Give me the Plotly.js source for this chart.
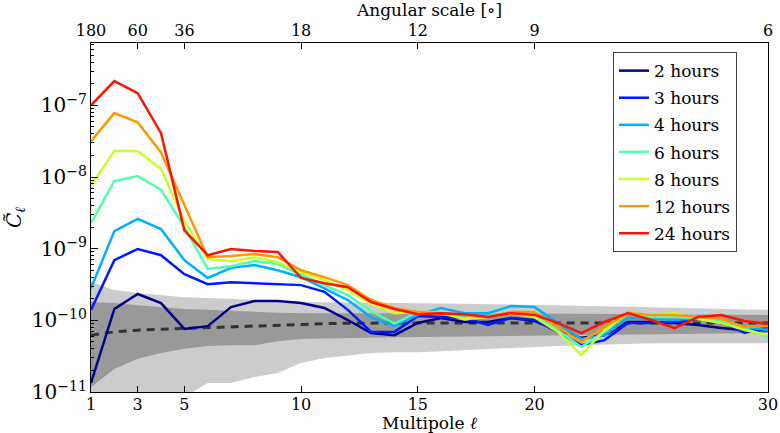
<!DOCTYPE html>
<html>
<head>
<meta charset="utf-8">
<script src="https://cdn.plot.ly/plotly-3.0.1.min.js"></script>
<style>html,body{margin:0;padding:0;background:#fff;}#chart{width:780px;height:433px;}</style>
</head>
<body>
<div id="chart"></div>
<script>
// Multipole ell
const ell = [1,2,3,4,5,6,7,8,9,10,11,12,13,14,15,16,17,18,19,20,21,22,23,24,25,26,27,28,29,30];

// Series values (C_ell)
const h2  = [1.34e-11,1.44e-10,2.33e-10,1.74e-10,7.6e-11,8.3e-11,1.53e-10,1.86e-10,1.86e-10,1.74e-10,1.49e-10,1.01e-10,6.65e-11,6.2e-11,9.2e-11,1.08e-10,9.5e-11,9.5e-11,1.08e-10,9.8e-11,7.3e-11,5.7e-11,6.2e-11,9.5e-11,9.5e-11,9.2e-11,8.6e-11,7.8e-11,7.3e-11,7.3e-11];
const h3  = [1.4e-10,6.9e-10,9.9e-10,8.1e-10,4.4e-10,3.2e-10,3.4e-10,3.3e-10,3.2e-10,3.1e-10,2.5e-10,1.4e-10,6.9e-11,6.9e-11,1.15e-10,1.11e-10,1.08e-10,8.6e-11,1.08e-10,1.01e-10,6.9e-11,4.5e-11,5.3e-11,9.2e-11,9.2e-11,9.5e-11,1.04e-10,9.5e-11,6.65e-11,8.1e-11];
const h4  = [2.8e-10,1.76e-9,2.6e-9,1.88e-9,6.9e-10,3.9e-10,5.4e-10,5.9e-10,5.0e-10,4.0e-10,2.8e-10,1.92e-10,1.1e-10,8.4e-11,1.19e-10,1.49e-10,1.26e-10,1.26e-10,1.58e-10,1.53e-10,9.2e-11,5.5e-11,6.2e-11,1.08e-10,1.04e-10,1.01e-10,1.08e-10,9.5e-11,8.1e-11,7.3e-11];
const h6  = [2.28e-9,8.8e-9,1.03e-8,6.6e-9,2.0e-9,5.2e-10,5.7e-10,6.7e-10,6.1e-10,4.3e-10,3.1e-10,2.25e-10,1.35e-10,9.0e-11,1.31e-10,1.31e-10,1.08e-10,1.15e-10,1.26e-10,1.15e-10,7.3e-11,4.25e-11,6.9e-11,1.31e-10,1.11e-10,1.11e-10,1.08e-10,9.8e-11,7.8e-11,5.85e-11];
const h8  = [7.7e-9,2.3e-8,2.3e-8,1.29e-8,2.43e-9,7.2e-10,6.7e-10,7.6e-10,6.5e-10,4.7e-10,3.65e-10,2.65e-10,1.7e-10,1.26e-10,1.31e-10,1.26e-10,1.04e-10,1.11e-10,1.26e-10,1.11e-10,6.9e-11,3.3e-11,7.3e-11,1.26e-10,1.19e-10,1.26e-10,1.04e-10,9.2e-11,7.3e-11,6.2e-11];
const h12 = [3.17e-8,7.8e-8,5.8e-8,2.2e-8,4.06e-9,7.6e-10,7.9e-10,8.4e-10,7.6e-10,5.0e-10,4.0e-10,3.1e-10,1.92e-10,1.49e-10,1.31e-10,1.26e-10,1.19e-10,1.11e-10,1.31e-10,1.31e-10,8.1e-11,5.0e-11,8.1e-11,1.26e-10,1.19e-10,1.19e-10,1.11e-10,1.04e-10,8.1e-11,8.3e-11];
const h24 = [1.0e-7,2.18e-7,1.48e-7,4.09e-8,1.8e-9,8.1e-10,9.9e-10,9.3e-10,9.0e-10,3.9e-10,3.3e-10,2.9e-10,1.8e-10,1.44e-10,1.22e-10,1.26e-10,1.22e-10,1.11e-10,1.26e-10,1.19e-10,9.2e-11,6.65e-11,9.5e-11,1.26e-10,1.01e-10,7.8e-11,1.11e-10,1.19e-10,9.8e-11,8.9e-11];

// Noise mean and bands
const meanC   = [6.2e-11,6.9e-11,7.3e-11,7.5e-11,7.8e-11,8.0e-11,8.2e-11,8.4e-11,8.6e-11,8.9e-11,9.0e-11,9.1e-11,9.2e-11,9.2e-11,9.2e-11,9.2e-11,9.2e-11,9.2e-11,9.2e-11,9.2e-11,9.2e-11,9.2e-11,9.2e-11,9.2e-11,9.2e-11,9.2e-11,9.2e-11,9.2e-11,9.2e-11,9.2e-11];
const outerHi = [3.42e-10,2.65e-10,2.4e-10,2.26e-10,2.1e-10,2.05e-10,1.98e-10,1.92e-10,1.86e-10,1.8e-10,1.79e-10,1.78e-10,1.77e-10,1.75e-10,1.74e-10,1.72e-10,1.70e-10,1.68e-10,1.65e-10,1.63e-10,1.61e-10,1.59e-10,1.57e-10,1.55e-10,1.53e-10,1.50e-10,1.48e-10,1.45e-10,1.42e-10,1.4e-10];
const innerHi = [1.8e-10,1.74e-10,1.63e-10,1.53e-10,1.44e-10,1.40e-10,1.35e-10,1.31e-10,1.28e-10,1.26e-10,1.26e-10,1.26e-10,1.26e-10,1.26e-10,1.26e-10,1.26e-10,1.26e-10,1.26e-10,1.26e-10,1.26e-10,1.25e-10,1.24e-10,1.23e-10,1.23e-10,1.22e-10,1.21e-10,1.21e-10,1.20e-10,1.20e-10,1.19e-10];
const innerLo = [1.17e-11,2.1e-11,2.9e-11,3.5e-11,4.0e-11,4.4e-11,4.5e-11,4.5e-11,5.1e-11,5.5e-11,5.6e-11,5.7e-11,5.8e-11,5.8e-11,5.85e-11,5.9e-11,6.0e-11,6.1e-11,6.15e-11,6.2e-11,6.25e-11,6.3e-11,6.35e-11,6.4e-11,6.45e-11,6.5e-11,6.55e-11,6.6e-11,6.6e-11,6.65e-11];
const outerLo = [3e-12,4e-12,5e-12,6e-12,8.5e-12,1.34e-11,1.34e-11,1.62e-11,1.84e-11,2.54e-11,2.98e-11,3.2e-11,3.5e-11,3.6e-11,3.6e-11,3.7e-11,3.85e-11,4.0e-11,4.1e-11,4.25e-11,4.4e-11,4.5e-11,4.5e-11,4.6e-11,4.8e-11,4.8e-11,4.8e-11,4.8e-11,4.8e-11,4.8e-11];

// Labels
const seriesNames = ['2 hours','3 hours','4 hours','6 hours','8 hours','12 hours','24 hours'];
const seriesColors = ['#00008b','#0018ff','#00b0ff','#50ffaa','#c8ff2a','#ff9800','#ff1200'];
const bottomTicks = [1,3,5,10,15,20,30];
const topTickVals = [1,3,5,10,15,20,30];
const topTickText = ['180','60','36','18','12','9','6'];

const series = [h2,h3,h4,h6,h8,h12,h24];
const FONT = 'DejaVu Serif, serif';

const traces = [];
traces.push({x: ell, y: outerLo, mode:'lines', line:{width:0, color:'#cccccc'}, showlegend:false, hoverinfo:'skip'});
traces.push({x: ell, y: outerHi, mode:'lines', line:{width:0, color:'#cccccc'}, fill:'tonexty', fillcolor:'#cccccc', showlegend:false, hoverinfo:'skip'});
traces.push({x: ell, y: innerLo, mode:'lines', line:{width:0, color:'#999999'}, showlegend:false, hoverinfo:'skip'});
traces.push({x: ell, y: innerHi, mode:'lines', line:{width:0, color:'#999999'}, fill:'tonexty', fillcolor:'#999999', showlegend:false, hoverinfo:'skip'});
traces.push({x: ell, y: meanC, mode:'lines', line:{width:3, color:'#333333', dash:'8px,6px'}, showlegend:false, hoverinfo:'skip'});
series.forEach((s,i)=>{
  traces.push({x: ell, y: s, mode:'lines', name: seriesNames[i], legendgroup: 'g'+i,
    line:{width:2.5, color: seriesColors[i]}});
});
// invisible trace to bind the top (angular-scale) axis
traces.push({x: ell, y: meanC, xaxis:'x2', mode:'lines', opacity:0, line:{width:0}, showlegend:false, hoverinfo:'skip'});

const layout = {
  width: 780, height: 433,
  margin: {l: 91, r: 12, t: 43, b: 41},
  paper_bgcolor: '#ffffff', plot_bgcolor: '#ffffff',
  font: {family: FONT, size: 16, color: '#000'},
  showlegend: true,
  xaxis: {
    type: 'linear', range: [1, 30], tickmode: 'array', tickvals: bottomTicks,
    ticks: 'inside', ticklen: 6, tickcolor: '#000', showgrid: false, zeroline: false,
    showline: true, linecolor: '#000', linewidth: 1, mirror: false,
    tickfont: {family: FONT, size: 16}, ticklabelstandoff: -2,
    title: {text: 'Multipole <i>ℓ</i>', font: {family: FONT, size: 17}, standoff: 1}
  },
  xaxis2: {
    overlaying: 'x', side: 'top', range: [1, 30], tickmode: 'array',
    tickvals: topTickVals, ticktext: topTickText,
    ticks: 'inside', ticklen: 6, tickcolor: '#000', showgrid: false, zeroline: false,
    showline: true, linecolor: '#000', linewidth: 1,
    tickfont: {family: FONT, size: 16},
    title: {text: 'Angular scale [∘]', font: {family: FONT, size: 17}, standoff: 0}
  },
  yaxis: {
    type: 'log', range: [-11, -6.13], dtick: 1, exponentformat: 'power',
    ticks: 'inside', ticklen: 7, tickcolor: '#000', showgrid: false, zeroline: false,
    showline: true, linecolor: '#000', linewidth: 1, mirror: true,
    minor: {ticks: 'inside', ticklen: 3, tickcolor: '#000', dtick: 'D1', showgrid: false},
    tickfont: {family: FONT, size: 16},
    title: {text: '<i>C̃</i><sub><i>ℓ</i></sub>', font: {family: FONT, size: 20}, standoff: 4}
  },
  legend: {
    x: 0.771, y: 0.974, xanchor: 'left', yanchor: 'top',
    bgcolor: '#ffffff', bordercolor: '#444444', borderwidth: 1,
    font: {family: FONT, size: 17}, itemwidth: 30, tracegroupgap: 2
  }
};

Plotly.newPlot('chart', traces, layout, {displayModeBar: false, staticPlot: true});
</script>
</body>
</html>
